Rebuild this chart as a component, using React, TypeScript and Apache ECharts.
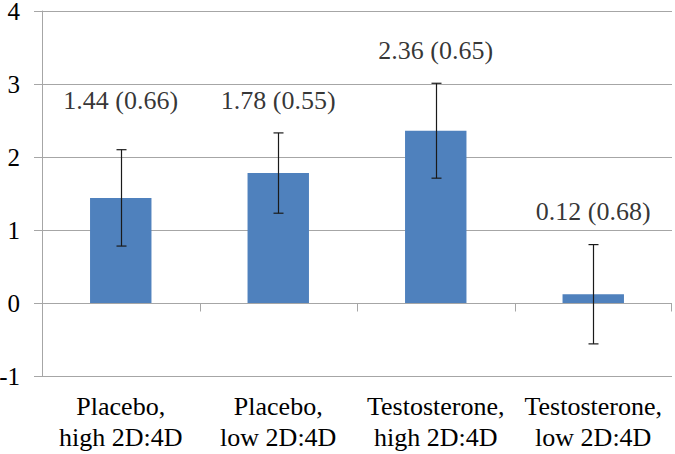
import React, { useEffect, useRef } from "react";
import * as echarts from "echarts";

const categories = [
  "Placebo,\nhigh 2D:4D",
  "Placebo,\nlow 2D:4D",
  "Testosterone,\nhigh 2D:4D",
  "Testosterone,\nlow 2D:4D",
];
const means = [1.44, 1.78, 2.36, 0.12];
const errors = [0.66, 0.55, 0.65, 0.68];
const labelTexts = ["1.44 (0.66)", "1.78 (0.55)", "2.36 (0.65)", "0.12 (0.68)"];
const labelPositions = [2.78, 2.78, 3.46, 1.25];
const yMin = -1;
const yMax = 4;
const yInterval = 1;

const FONT = "'Liberation Serif', 'Times New Roman', serif";
const AXIS_GRAY = "#a6a6a6";

export default function App() {
  const ref = useRef<HTMLDivElement>(null);
  useEffect(() => {
    if (!ref.current) return;
    const chart = echarts.init(ref.current, null, { renderer: "svg" });
    const n = categories.length;
    chart.setOption({
      animation: false,
      textStyle: { fontFamily: FONT },
      grid: { left: 42, right: 3, top: 11, bottom: 78, containLabel: false, outerBoundsMode: "none" },
      xAxis: {
        type: "category",
        data: categories,
        position: "bottom",
        axisLine: { show: false, onZero: false },
        axisTick: { show: false },
        axisLabel: {
          margin: 15,
          fontFamily: FONT,
          fontSize: 26,
          lineHeight: 31,
          color: "#000",
          interval: 0,
        },
      },
      yAxis: {
        type: "value",
        min: yMin,
        max: yMax,
        interval: yInterval,
        axisLine: { show: true, lineStyle: { color: AXIS_GRAY, width: 1 } },
        axisTick: { show: true, length: 8, lineStyle: { color: AXIS_GRAY } },
        splitLine: { show: true, lineStyle: { color: AXIS_GRAY, width: 1 } },
        axisLabel: {
          margin: 22,
          fontFamily: FONT,
          fontSize: 25,
          lineHeight: 20,
          color: "#000",
        },
      },
      series: [
        {
          type: "bar",
          data: means,
          barWidth: "39%",
          itemStyle: { color: "#4F81BD" },
          z: 2,
        },
        {
          // zero-line category ticks
          type: "custom",
          data: means.map((_, i) => [i]),
          renderItem: (params: any, api: any) => {
            const i = api.value(0);
            const bw = api.size([1, 0])[0];
            const c = api.coord([i, 0]);
            const y0 = Math.round(c[1]) + 0.5;
            const style = { stroke: AXIS_GRAY, lineWidth: 1 };
            const children: any[] = [];
            const xl = Math.round(c[0] - bw / 2) + 0.5;
            if (i > 0) children.push({ type: "line", shape: { x1: xl, y1: y0, x2: xl, y2: y0 + 8 }, style });
            if (i === n - 1) {
              const xr = Math.round(c[0] + bw / 2) - 0.5;
              children.push({ type: "line", shape: { x1: xr, y1: y0, x2: xr, y2: y0 + 8 }, style });
            }
            return { type: "group", children };
          },
          z: 1,
        },
        {
          type: "custom",
          data: means.map((m, i) => [i, m - errors[i], m + errors[i]]),
          renderItem: (params: any, api: any) => {
            const x = api.value(0);
            const lo = api.coord([x, api.value(1)]);
            const hi = api.coord([x, api.value(2)]);
            const cx = Math.round(lo[0]) + 0.5;
            const half = 5;
            const style = { stroke: "#1a1a1a", lineWidth: 1.2 };
            return {
              type: "group",
              children: [
                { type: "line", shape: { x1: cx, y1: hi[1], x2: cx, y2: lo[1] }, style },
                { type: "line", shape: { x1: cx - half, y1: hi[1], x2: cx + half, y2: hi[1] }, style },
                { type: "line", shape: { x1: cx - half, y1: lo[1], x2: cx + half, y2: lo[1] }, style },
              ],
            };
          },
          z: 5,
        },
        {
          type: "scatter",
          data: labelPositions.map((v, i) => [i, v]),
          symbolSize: 0,
          label: {
            show: true,
            position: "inside",
            formatter: (p: any) => labelTexts[p.dataIndex],
            fontFamily: FONT,
            fontSize: 26,
            color: "#000",
          },
          z: 6,
        },
      ],
    });
    return () => chart.dispose();
  }, []);
  return <div ref={ref} style={{ width: 675, height: 454, position: "absolute", left: 0, top: 0 }} />;
}
